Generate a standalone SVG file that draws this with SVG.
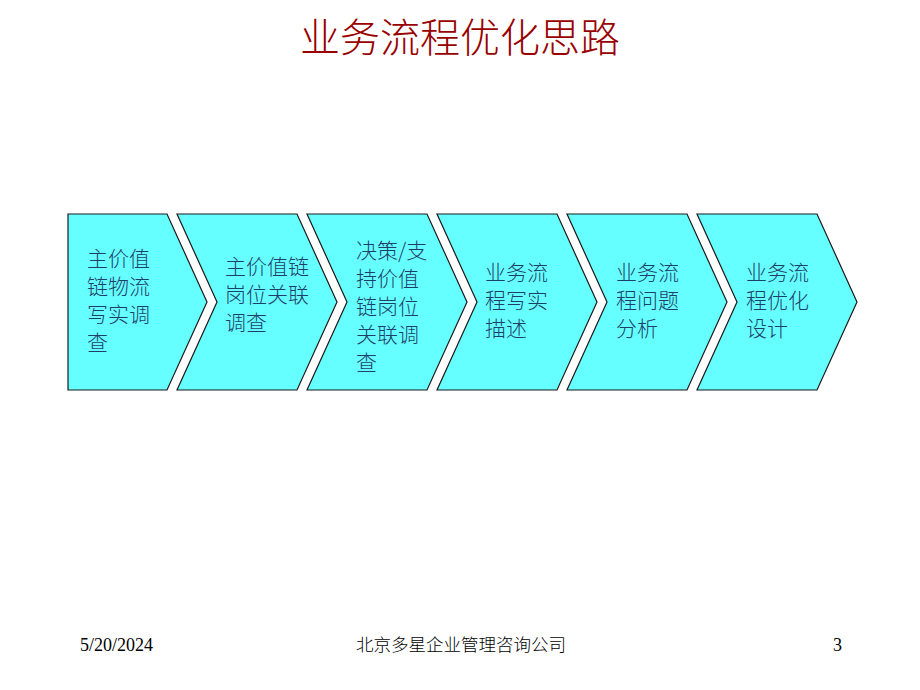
<svg xmlns="http://www.w3.org/2000/svg" width="920" height="690" viewBox="0 0 920 690">
<style>
.shape{fill:#66FFFF;stroke:#1a1a1a;stroke-width:1.2}
.lbl{font-family:"Noto Sans CJK SC","Liberation Sans",sans-serif;font-size:21px;font-weight:300;fill:#1F3F6B}
.title{font-family:"Noto Sans CJK SC",sans-serif;font-size:40px;font-weight:300;fill:#990000;text-anchor:middle}
.foot{font-family:"Liberation Serif","Noto Sans CJK SC",serif;font-size:18px;fill:#000}
.footcjk{font-family:"Noto Sans CJK SC",serif;font-size:17.5px;font-weight:300;fill:#000}
</style>
<rect width="920" height="690" fill="#fff"/>
<text class="title" x="460" y="52">业务流程优化思路</text>
<g id="step1">
<polygon class="shape" points="68,214 167,214 207,302 167,390 68,390"/>
<text class="lbl"><tspan x="87" y="266">主价值</tspan><tspan x="87" y="294">链物流</tspan><tspan x="87" y="322">写实调</tspan><tspan x="87" y="350">查</tspan></text>
</g>
<g id="step2">
<polygon class="shape" points="177,214 297,214 337,302 297,390 177,390 217,302"/>
<text class="lbl"><tspan x="225" y="274">主价值链</tspan><tspan x="225" y="302">岗位关联</tspan><tspan x="225" y="330">调查</tspan></text>
</g>
<g id="step3">
<polygon class="shape" points="307,214 427,214 467,302 427,390 307,390 347,302"/>
<text class="lbl"><tspan x="356" y="258">决策/支</tspan><tspan x="356" y="286">持价值</tspan><tspan x="356" y="314">链岗位</tspan><tspan x="356" y="342">关联调</tspan><tspan x="356" y="370">查</tspan></text>
</g>
<g id="step4">
<polygon class="shape" points="437,214 557,214 597,302 557,390 437,390 477,302"/>
<text class="lbl"><tspan x="485" y="280">业务流</tspan><tspan x="485" y="308">程写实</tspan><tspan x="485" y="336">描述</tspan></text>
</g>
<g id="step5">
<polygon class="shape" points="567,214 687,214 727,302 687,390 567,390 607,302"/>
<text class="lbl"><tspan x="616" y="280">业务流</tspan><tspan x="616" y="308">程问题</tspan><tspan x="616" y="336">分析</tspan></text>
</g>
<g id="step6">
<polygon class="shape" points="697,214 817,214 857,302 817,390 697,390 737,302"/>
<text class="lbl"><tspan x="746" y="280">业务流</tspan><tspan x="746" y="308">程优化</tspan><tspan x="746" y="336">设计</tspan></text>
</g>
<g id="connectors"></g>
<g id="footer">
<text class="foot" x="80" y="651">5/20/2024</text>
<text class="footcjk" x="461" y="651" text-anchor="middle">北京多星企业管理咨询公司</text>
<text class="foot" x="842" y="651" text-anchor="end">3</text>
</g>
</svg>
